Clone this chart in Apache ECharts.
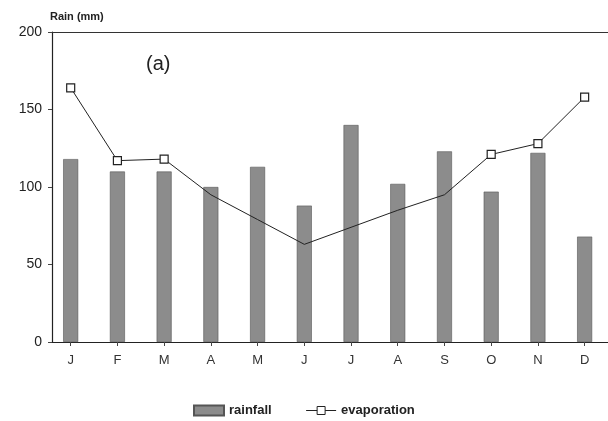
<!DOCTYPE html>
<html>
<head>
<meta charset="utf-8">
<script src="https://cdn.jsdelivr.net/npm/echarts@6/dist/echarts.min.js"></script>
<style>
html,body{margin:0;padding:0;background:#fff;}
#c{width:608px;height:421px;}
</style>
</head>
<body>
<div id="c"></div>
<script>
const months = ['J','F','M','A','M','J','J','A','S','O','N','D'];
const rainfall = [118, 110, 110, 100, 113, 88, 140, 102, 123, 97, 122, 68];
const evaporation = [164, 117, 118, 95, 79, 63, 74, 85, 95, 121, 128, 158];
const yTicks = [0, 50, 100, 150, 200];

const pos = months.map((m, i) => i + 1);
const rainData = rainfall.map((v, i) => [pos[i], v]);
const evapData = evaporation.map((v, i) => ({
  value: [pos[i], v],
  symbol: v > rainfall[i] ? 'rect' : 'none'
}));

const font = 'Liberation Sans';
const chart = echarts.init(document.getElementById('c'), null, {renderer: 'canvas'});
chart.setOption({
  animation: false,
  backgroundColor: '#fff',
  title: {
    text: '(a)', left: 141, top: 49,
    textStyle: {fontFamily: font, fontSize: 20, fontWeight: 'normal', color: '#222'}
  },
  legend: {
    left: 188, top: 399,
    itemGap: 34,
    itemWidth: 30, itemHeight: 10,
    textStyle: {fontFamily: font, fontSize: 13, fontWeight: 'bold', color: '#222'},
    data: [
      {name: 'rainfall', icon: 'rect'},
      {name: 'evaporation', itemStyle: {color: '#fff', borderColor: '#222', borderWidth: 1}, lineStyle: {color: '#222', width: 1, type: 'solid'}}
    ]
  },
  grid: {left: 52, right: 0, top: 32, bottom: 79},
  xAxis: [{
    type: 'value', min: 0.6, max: 12.5,
    axisLine: {show: true, lineStyle: {color: '#222', width: 1.2}},
    axisTick: {show: true, length: 4, customValues: pos, lineStyle: {color: '#444'}},
    axisLabel: {
      customValues: pos, margin: 12,
      formatter: v => months[Math.round(v) - 1] || '',
      fontFamily: font, fontSize: 13, color: '#333'
    },
    splitLine: {show: false}
  }, {
    type: 'value', position: 'top', min: 0.6, max: 12.5,
    axisLine: {show: true, lineStyle: {color: '#333', width: 1.2}},
    axisTick: {show: false}, axisLabel: {show: false}, splitLine: {show: false}
  }],
  yAxis: {
    type: 'value', min: 0, max: 200, interval: 50,
    name: 'Rain (mm)', nameLocation: 'end', nameGap: 10,
    nameTextStyle: {fontFamily: font, fontSize: 11, fontWeight: 'bold', color: '#222', align: 'left', padding: [0, 0, 0, -2]},
    axisLine: {show: true, lineStyle: {color: '#222', width: 1.2}},
    axisTick: {show: true, length: 4, inside: false, lineStyle: {color: '#444'}},
    axisLabel: {
      customValues: yTicks, margin: 10,
      fontFamily: font, fontSize: 14, color: '#222'
    },
    splitLine: {show: false}
  },
  series: [{
    name: 'rainfall',
    type: 'bar',
    data: rainData,
    barWidth: 15,
    itemStyle: {color: '#8c8c8c', borderColor: '#555', borderWidth: 0.6},
    z: 2
  }, {
    name: 'evaporation',
    type: 'line',
    data: evapData,
    symbol: 'rect',
    symbolSize: 8,
    showSymbol: true,
    lineStyle: {color: '#222', width: 1},
    itemStyle: {color: '#fff', borderColor: '#222', borderWidth: 1.2},
    z: 3
  }]
});
</script>
</body>
</html>
